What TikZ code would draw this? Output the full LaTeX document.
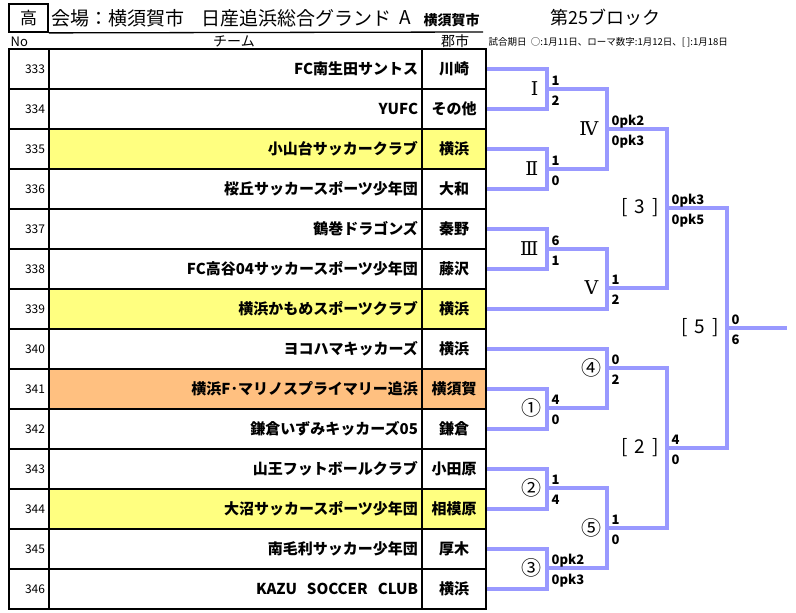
\documentclass[tikz,border=0pt]{standalone}
\usepackage{fontspec}
\setmainfont{Noto Sans CJK JP}
\newfontfamily\romanfont{DejaVu Serif}
\usetikzlibrary{positioning}
\definecolor{hlyellow}{HTML}{FFFF80}
\definecolor{hlorange}{HTML}{FFC080}
\definecolor{bracketblue}{HTML}{9999FF}
\tikzset{every picture/.style={line width=1.3pt}}
\tikzstyle{heading}=[anchor=west,inner sep=0pt]
\tikzstyle{nocell}=[draw,inner xsep=4pt,inner ysep=0pt,minimum width=40pt,minimum height=40pt,text width=32pt,align=right,font=\fontsize{12}{12}\selectfont]
\tikzstyle{teamcell}=[draw,inner xsep=4pt,inner ysep=0pt,minimum width=373pt,minimum height=40pt,text width=365pt,align=right,font=\bfseries\fontsize{15}{15}\selectfont]
\tikzstyle{citycell}=[draw,inner sep=0pt,minimum width=64pt,minimum height=40pt,font=\bfseries\fontsize{15}{15}\selectfont]
\tikzstyle{tie}=[draw=bracketblue,line width=3.5pt]
\tikzstyle{rnd}=[inner sep=2pt,font=\romanfont\fontsize{19}{19}\selectfont]
\tikzstyle{circled}=[inner sep=0pt,font=\fontsize{20}{20}\selectfont]
\tikzstyle{finalrnd}=[inner sep=0pt,font=\fontsize{19}{19}\selectfont]
\tikzstyle{score}=[inner sep=0pt,anchor=base west,font=\bfseries\fontsize{13}{13}\selectfont]

\begin{document}
\begin{tikzpicture}[x=1pt,y=-1pt]
\useasboundingbox (0,0) rectangle (796,613);
% header
\node[draw,line width=1.8pt,inner sep=0pt,minimum width=39pt,minimum height=28pt,font=\fontsize{17}{17}\selectfont] (grade) at (28.5,18) {高};
\node[heading,font=\fontsize{19}{19}\selectfont] (venue) at (51,18) {会場：横須賀市};
\node[heading,font=\fontsize{19}{19}\selectfont] (ground) at (201,18) {日産追浜総合グランド};
\node[heading,font=\fontsize{19}{19}\selectfont] (field) at (399,18) {A};
\node[heading,font=\bfseries\fontsize{14}{14}\selectfont] (town) at (423,20) {横須賀市};
\draw (grade.south east) -- (483,32);
\node[heading,font=\fontsize{18}{18}\selectfont] (block) at (550,18) {第25ブロック};
\node[heading,font=\fontsize{13}{13}\selectfont] (nohead) at (10,42) {No};
\node[inner sep=0pt,font=\fontsize{14}{14}\selectfont] (teamhead) at (234,41) {チーム};
\node[inner sep=0pt,font=\fontsize{14}{14}\selectfont] (cityhead) at (455,41) {郡市};
\node[heading,font=\fontsize{9.5}{9.5}\selectfont] (dates) at (488,42) {試合期日\ \ ○:1月11日、ローマ数字:1月12日、[ ]:1月18日};
% table
\foreach \i/\n/\t/\c/\f in {1/333/FC南生田サントス/川崎/white,
 2/334/YUFC/その他/white,
 3/335/小山台サッカークラブ/横浜/hlyellow,
 4/336/桜丘サッカースポーツ少年団/大和/white,
 5/337/鶴巻ドラゴンズ/秦野/white,
 6/338/FC高谷04サッカースポーツ少年団/藤沢/white,
 7/339/横浜かもめスポーツクラブ/横浜/hlyellow,
 8/340/ヨコハマキッカーズ/横浜/white,
 9/341/横浜F･マリノスプライマリー追浜/横須賀/hlorange,
 10/342/鎌倉いずみキッカーズ05/鎌倉/white,
 11/343/山王フットボールクラブ/小田原/white,
 12/344/大沼サッカースポーツ少年団/相模原/hlyellow,
 13/345/南毛利サッカー少年団/厚木/white,
 14/346/KAZU\ \ SOCCER\ \ CLUB/横浜/white}{
\node[nocell] (no\i) at (29,29+40*\i) {\n};
\node[teamcell,fill=\f] (team\i) at (235.5,29+40*\i) {\t};
\node[citycell,fill=\f] (city\i) at (454,29+40*\i) {\c};
}
% bracket
\coordinate (m1) at (547,89);
\coordinate (m2) at (547,169);
\coordinate (m3) at (547,249);
\coordinate (m4) at (607,129);
\coordinate (m5) at (607,288);
\coordinate (m6) at (667,208);
\coordinate (m7) at (607,368);
\coordinate (m8) at (547,408);
\coordinate (m9) at (547,488);
\coordinate (m10) at (547,568);
\coordinate (m11) at (607,528);
\coordinate (m12) at (667,448);
\coordinate (m13) at (727,328);
\coordinate (champ) at (787,328);
\draw[tie] (city1.east) -| (m1) (city2.east) -| (m1)
 (city3.east) -| (m2) (city4.east) -| (m2)
 (city5.east) -| (m3) (city6.east) -| (m3)
 (m1) -| (m4) (m2) -| (m4)
 (m3) -| (m5) (city7.east) -| (m5)
 (m4) -| (m6) (m5) -| (m6)
 (city8.east) -| (m7) (m8) -| (m7)
 (city9.east) -| (m8) (city10.east) -| (m8)
 (city11.east) -| (m9) (city12.east) -| (m9)
 (city13.east) -| (m10) (city14.east) -| (m10)
 (m9) -| (m11) (m10) -| (m11)
 (m7) -| (m12) (m11) -| (m12)
 (m6) -| (m13) (m12) -| (m13)
 (m13) -- (champ);
% round names
\node[rnd,left=6pt of m1] (r1) {Ⅰ};
\node[rnd,left=6pt of m2] (r2) {Ⅱ};
\node[rnd,left=6pt of m3] (r3) {Ⅲ};
\node[rnd,left=6pt of m4] (r4) {Ⅳ};
\node[rnd,left=6pt of m5] (r5) {Ⅴ};
\node[finalrnd,left=7pt of m6] (r6) {[\,\ 3\ \,]};
\node[circled,left=5pt of m7] (r7) {④};
\node[circled,left=5pt of m8] (r8) {①};
\node[circled,left=5pt of m9] (r9) {②};
\node[circled,left=5pt of m10] (r10) {③};
\node[circled,left=5pt of m11] (r11) {⑤};
\node[finalrnd,left=7pt of m12] (r12) {[\,\ 2\ \,]};
\node[finalrnd,left=7pt of m13] (r13) {[\,\ 5\ \,]};
% scores
\node[score] (s1a) at ([shift={(4,-4)}]m1) {1};
\node[score] (s1b) at ([shift={(4,16)}]m1) {2};
\node[score] (s2a) at ([shift={(4,-4)}]m2) {1};
\node[score] (s2b) at ([shift={(4,16)}]m2) {0};
\node[score] (s3a) at ([shift={(4,-4)}]m3) {6};
\node[score] (s3b) at ([shift={(4,16)}]m3) {1};
\node[score] (s4a) at ([shift={(4,-4)}]m4) {0pk2};
\node[score] (s4b) at ([shift={(4,16)}]m4) {0pk3};
\node[score] (s5a) at ([shift={(4,-4)}]m5) {1};
\node[score] (s5b) at ([shift={(4,16)}]m5) {2};
\node[score] (s6a) at ([shift={(4,-4)}]m6) {0pk3};
\node[score] (s6b) at ([shift={(4,16)}]m6) {0pk5};
\node[score] (s7a) at ([shift={(4,-4)}]m7) {0};
\node[score] (s7b) at ([shift={(4,16)}]m7) {2};
\node[score] (s8a) at ([shift={(4,-4)}]m8) {4};
\node[score] (s8b) at ([shift={(4,16)}]m8) {0};
\node[score] (s9a) at ([shift={(4,-4)}]m9) {1};
\node[score] (s9b) at ([shift={(4,16)}]m9) {4};
\node[score] (s10a) at ([shift={(4,-4)}]m10) {0pk2};
\node[score] (s10b) at ([shift={(4,16)}]m10) {0pk3};
\node[score] (s11a) at ([shift={(4,-4)}]m11) {1};
\node[score] (s11b) at ([shift={(4,16)}]m11) {0};
\node[score] (s12a) at ([shift={(4,-4)}]m12) {4};
\node[score] (s12b) at ([shift={(4,16)}]m12) {0};
\node[score] (s13a) at ([shift={(4,-4)}]m13) {0};
\node[score] (s13b) at ([shift={(4,16)}]m13) {6};
\end{tikzpicture}
\end{document}
